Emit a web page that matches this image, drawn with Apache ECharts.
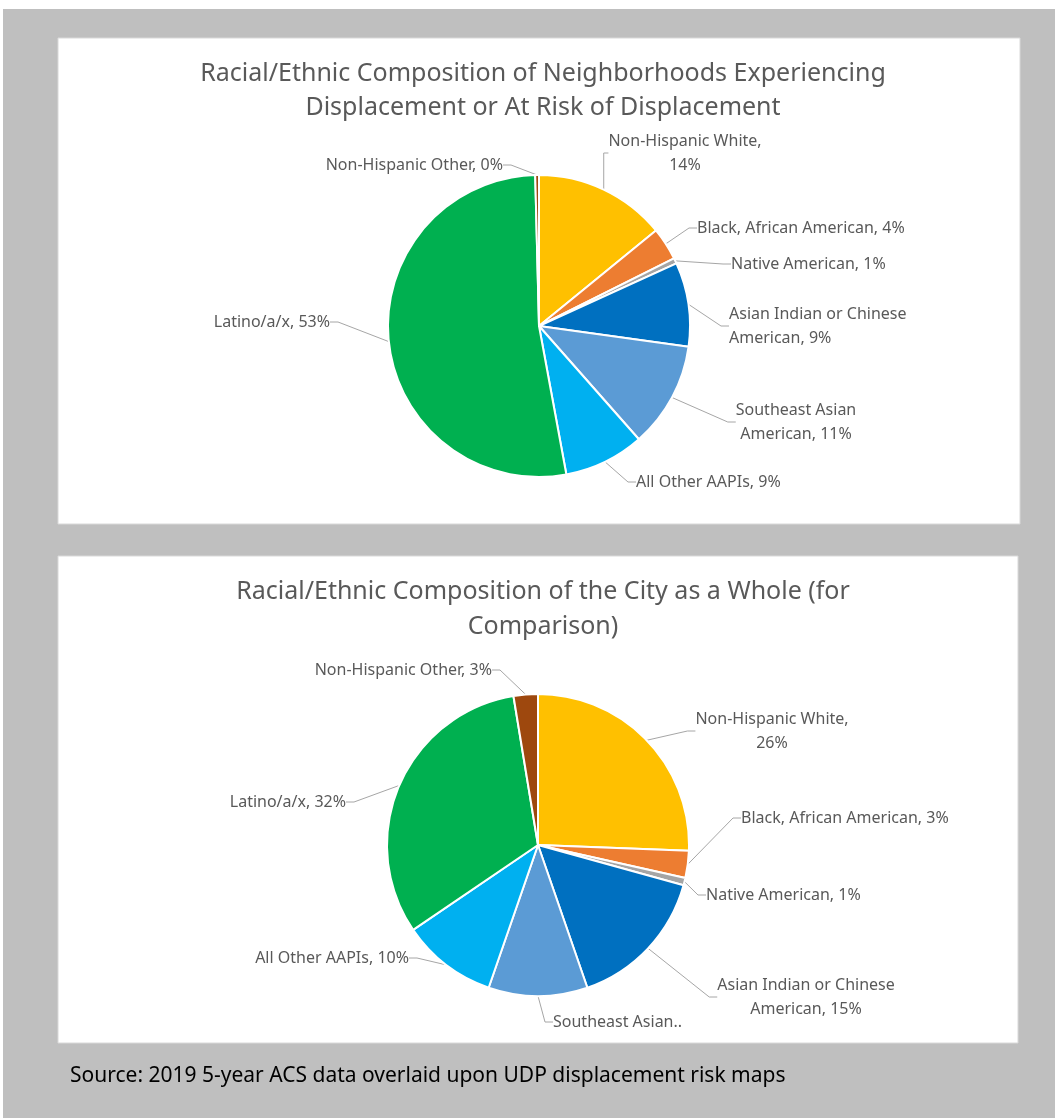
<!DOCTYPE html>
<html>
<head>
<meta charset="utf-8">
<title>Racial/Ethnic Composition</title>
<script src="https://cdn.jsdelivr.net/npm/echarts@6/dist/echarts.min.js"></script>
<style>
  html, body { margin: 0; padding: 0; background: #ffffff; }
  #chart { width: 1055px; height: 1118px; }
</style>
</head>
<body>
<div id="chart"></div>
<script>
// Group names, shared by both pies (clockwise from 12 o'clock)
const groups = [
  'Non-Hispanic White',
  'Black, African American',
  'Native American',
  'Asian Indian or Chinese American',
  'Southeast Asian American',
  'All Other AAPIs',
  'Latino/a/x',
  'Non-Hispanic Other'
];

// Share of population (%) in neighborhoods experiencing / at risk of displacement
const displacementShares = [14.1, 3.5, 0.6, 9.0, 11.3, 8.6, 52.5, 0.4];

// Share of population (%) in the city as a whole
const cityShares = [25.6, 2.9, 0.8, 15.4, 10.6, 10.2, 31.9, 2.6];

// Label text for each slice; {v} is replaced by the rounded share
const displacementLabels = [
  'Non-Hispanic White,\n{v}%',
  'Black, African American, {v}%',
  'Native American, {v}%',
  'Asian Indian or Chinese\nAmerican, {v}%',
  'Southeast Asian\nAmerican, {v}%',
  'All Other AAPIs, {v}%',
  'Latino/a/x, {v}%',
  'Non-Hispanic Other, {v}%'
];
const cityLabels = [
  'Non-Hispanic White,\n{v}%',
  'Black, African American, {v}%',
  'Native American, {v}%',
  'Asian Indian or Chinese\nAmerican, {v}%',
  'Southeast Asian..',
  'All Other AAPIs, {v}%',
  'Latino/a/x, {v}%',
  'Non-Hispanic Other, {v}%'
];

const titleTop = 'Racial/Ethnic Composition of Neighborhoods Experiencing\nDisplacement or At Risk of Displacement';
const titleBottom = 'Racial/Ethnic Composition of the City as a Whole (for\nComparison)';
const sourceNote = 'Source: 2019 5-year ACS data overlaid upon UDP displacement risk maps';

// Slice colours
const sliceColors = ['#FFC000', '#ED7D31', '#A5A5A5', '#0070C0', '#5B9BD5', '#00B0F0', '#00B050', '#9E480E'];

// Label placement per slice: [x, y, align]
const topLabelSpots = [
  [685, 153, 'center'], [697, 228, 'left'], [731, 264, 'left'], [729, 326, 'left'],
  [796, 422, 'center'], [636, 482, 'left'], [330, 322, 'right'], [503, 165, 'right']
];
const bottomLabelSpots = [
  [772, 731, 'center'], [741, 818, 'left'], [706, 895, 'left'], [806, 997, 'center'],
  [553, 1022, 'left'], [409, 958, 'right'], [346, 802, 'right'], [492, 670, 'right']
];

const FONT = '"Noto Sans", "Open Sans", sans-serif';
const TEXT_GRAY = '#595959';

function pieSeries(values, labels, spots, center) {
  return {
    type: 'pie',
    center: center,
    radius: [0, 151],
    startAngle: 90,
    clockwise: true,
    avoidLabelOverlap: false,
    animation: false,
    itemStyle: { borderColor: '#ffffff', borderWidth: 2 },
    emphasis: { disabled: true },
    data: groups.map((g, i) => ({
      name: g,
      value: values[i],
      itemStyle: { color: sliceColors[i] },
      label: { align: spots[i][2] }
    })),
    label: {
      show: true,
      color: TEXT_GRAY,
      fontFamily: FONT,
      fontSize: 16,
      lineHeight: 24,
      formatter: p => labels[p.dataIndex].replace('{v}', Math.round(p.value))
    },
    labelLine: {
      show: true,
      length: 10,
      length2: 8,
      lineStyle: { color: '#A6A6A6', width: 1 }
    },
    labelLayout: p => ({
      x: spots[p.dataIndex][0],
      y: spots[p.dataIndex][1],
      align: spots[p.dataIndex][2],
      verticalAlign: 'middle'
    })
  };
}

const chart = echarts.init(document.getElementById('chart'), null, { renderer: 'canvas' });

chart.setOption({
  backgroundColor: '#ffffff',
  graphic: [
    { type: 'rect', z: -10, shape: { x: 3, y: 9, width: 1052, height: 1109 }, style: { fill: '#BFBFBF' } },
    { type: 'rect', z: -9, shape: { x: 58, y: 38, width: 962, height: 486 }, style: { fill: '#ffffff', stroke: '#D9D9D9', lineWidth: 1 } },
    { type: 'rect', z: -9, shape: { x: 58, y: 556, width: 960, height: 487 }, style: { fill: '#ffffff', stroke: '#D9D9D9', lineWidth: 1 } },
    {
      type: 'text', left: 70, top: 1066,
      style: { text: sourceNote, fill: '#000000', font: '21px "Noto Sans", sans-serif' }
    }
  ],
  title: [
    {
      text: titleTop, left: 538, top: 52, textAlign: 'center',
      textStyle: { color: TEXT_GRAY, fontFamily: FONT, fontSize: 25, fontWeight: 'normal', lineHeight: 34 }
    },
    {
      text: titleBottom, left: 538, top: 569, textAlign: 'center',
      textStyle: { color: TEXT_GRAY, fontFamily: FONT, fontSize: 25, fontWeight: 'normal', lineHeight: 35 }
    }
  ],
  series: [
    pieSeries(displacementShares, displacementLabels, topLabelSpots, [539, 326]),
    pieSeries(cityShares, cityLabels, bottomLabelSpots, [538, 845])
  ]
});
</script>
</body>
</html>
